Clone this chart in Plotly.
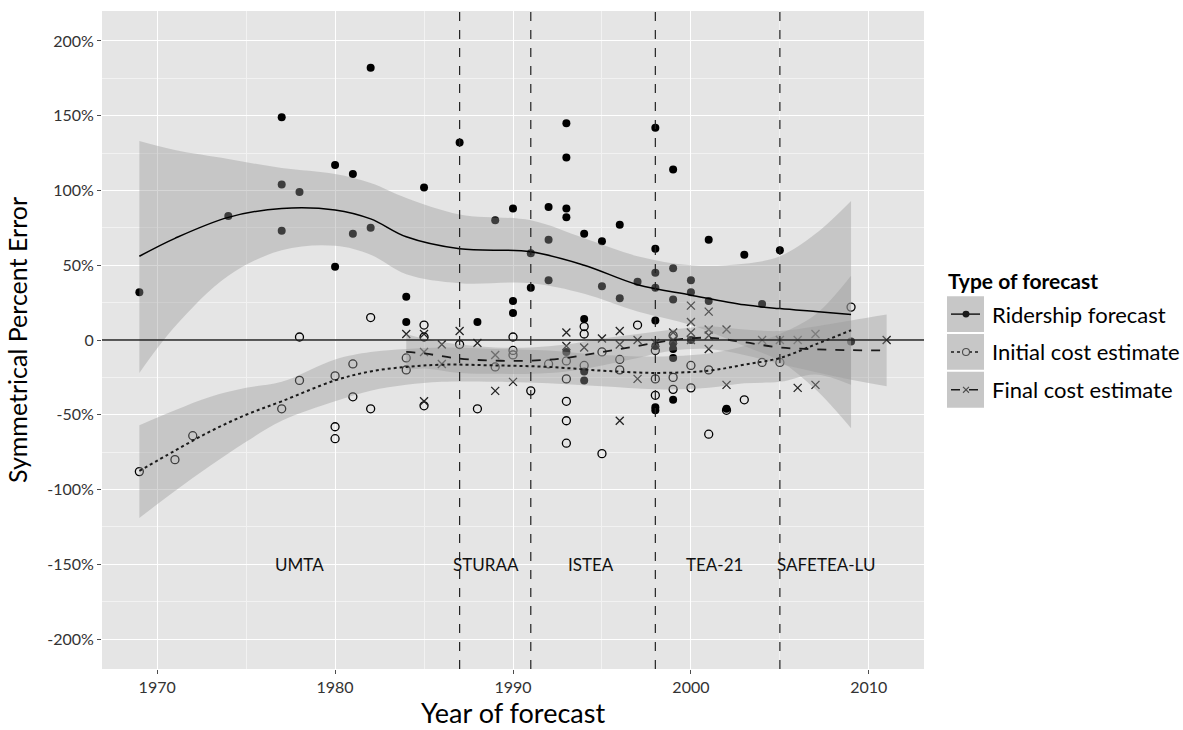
import plotly.graph_objects as go

# ---- observed forecast errors (symmetrical percent error, %) ----
rider_year = [1969, 1974, 1977, 1977, 1977, 1978, 1980, 1980, 1981, 1981, 1982, 1982,
              1984, 1984, 1985, 1987, 1988, 1989, 1990, 1990, 1990, 1991, 1991,
              1992, 1992, 1992, 1993, 1993, 1993, 1993, 1993, 1994, 1994, 1994, 1994,
              1995, 1995, 1996, 1996, 1997,
              1998, 1998, 1998, 1998, 1998, 1998, 1998, 1998,
              1999, 1999, 1999, 1999, 1999, 1999, 1999,
              2000, 2000, 2000, 2001, 2001, 2002, 2003, 2004, 2005, 2009]
rider_err = [32, 83, 149, 104, 73, 99, 117, 49, 111, 71, 182, 75,
             29, 12, 102, 132, 12, 80, 88, 26, 18, 58, 35,
             89, 67, 40, 145, 122, 88, 82, -8, 71, 14, -21, -27,
             66, 36, 77, 28, 39,
             142, 61, 45, 35, 13, -4, -45, -47,
             114, 48, 27, -2, -6, -12, -40,
             40, 32, 0, 67, 26, -46, 57, 24, 60, -1]

init_year = [1969, 1971, 1972, 1977, 1978, 1978, 1980, 1980, 1980, 1981, 1981, 1982, 1982,
             1984, 1984, 1985, 1985, 1985, 1987, 1988, 1989, 1990, 1990, 1990, 1991, 1992,
             1993, 1993, 1993, 1993, 1993, 1994, 1994, 1994, 1995, 1995, 1996, 1996, 1997,
             1998, 1998, 1998, 1999, 1999, 1999, 2000, 2000, 2001, 2001,
             2002, 2003, 2004, 2005, 2009]
init_err = [-88, -80, -64, -46, 2, -27, -24, -58, -66, -16, -38, 15, -46,
            -12, -20, 10, 2, -44, -3, -46, -18, 2, -7, -10, -34, -16,
            -14, -26, -41, -54, -69, 9, 4, -17, -8, -76, -13, -20, 10,
            -7, -26, -37, 3, -25, -33, -17, -32, -20, -63,
            -47, -40, -15, -15, 22]

final_year = [1984, 1985, 1985, 1985, 1986, 1986, 1987, 1988, 1989, 1989, 1990,
              1993, 1993, 1994, 1995, 1996, 1996, 1996, 1997, 1997, 1998, 1999, 1999,
              2000, 2000, 2000, 2000, 2001, 2001, 2001, 2001, 2002, 2002,
              2004, 2005, 2006, 2006, 2007, 2007, 2011]
final_err = [4, 4, -8, -41, -3, -16, 6, -2, -10, -34, -28,
             5, -4, -5, 1, 6, -3, -54, 0, -26, -2, 5, 0,
             23, 12, 5, 0, 19, 7, 3, -6, 7, -30,
             0, 0, 0, -32, 4, -30, 0]

# ---- loess smooths with confidence band ----
rider_s_year = [1969, 1971, 1974, 1977, 1980, 1982, 1984, 1987, 1991, 1994, 1997, 2000, 2003, 2005, 2007, 2009]
rider_s_fit = [56, 68, 82, 88, 87, 81, 69, 61, 59, 50, 37, 30, 23.5, 21, 19, 17]
rider_s_hi = [133, 127, 121, 115, 111, 105, 95, 84, 80, 68, 56, 50, 51, 56, 71, 93]
rider_s_lo = [-22, 9, 43, 60, 63, 57, 44, 38, 38, 31, 19, 10, -4, -14, -33, -59]

init_s_year = [1969, 1971, 1973, 1975, 1977, 1980, 1982, 1984, 1986, 1989, 1992, 1995, 1998, 2001, 2003, 2005, 2007, 2009]
init_s_fit = [-87.5, -74, -61, -50, -41, -27, -21, -18, -16.5, -17, -18, -20.5, -22, -20.5, -16.5, -12, -3, 6.5]
init_s_hi = [-57, -47, -38, -32, -28, -13, -8, -6, -5, -6, -7, -10, -11, -9, -4, 4, 17, 43]
init_s_lo = [-119, -101, -84, -68, -54, -41, -34, -30, -28, -28, -29, -31, -33, -32, -29, -28, -23, -30]

final_s_year = [1984, 1985, 1987, 1989, 1991, 1993, 1995, 1997, 1999, 2001, 2003, 2005, 2007, 2009, 2011]
final_s_fit = [-8, -9, -12.5, -13.8, -13.8, -12, -8, -4, 0, 1.5, -1.5, -5, -6.2, -6.8, -7]
final_s_hi = [4, 1, -3, -5, -5, -3, 1, 4, 7, 9, 7, 6, 9, 13, 17]
final_s_lo = [-20, -19, -22, -22.6, -22.6, -21, -17, -12, -7, -6, -10, -16, -21.4, -26.6, -31]

# ---- legislative eras ----
era_bounds = [1987, 1991, 1998, 2005]
era_names = ["UMTA", "STURAA", "ISTEA", "TEA-21", "SAFETEA-LU"]
era_label_x = [1978, 1988.5, 1994.4, 2001.3, 2007.6]
era_label_y = -150

x_ticks = [1970, 1980, 1990, 2000, 2010]
y_ticks = [-200, -150, -100, -50, 0, 50, 100, 150, 200]
y_tick_text = ["-200%", "-150%", "-100%", "-50%", "0", "50%", "100%", "150%", "200%"]

legend_title = "Type of forecast"
legend_names = ["Ridership forecast", "Initial cost estimate", "Final cost estimate"]

FONT = "Lato"
BAND = "rgba(153,153,153,0.4)"

fig = go.Figure()

# points
fig.add_trace(go.Scatter(x=rider_year, y=rider_err, mode="markers", name=legend_names[0],
                         marker=dict(symbol="circle", size=8, color="black"), showlegend=False))
fig.add_trace(go.Scatter(x=init_year, y=init_err, mode="markers", name=legend_names[1],
                         marker=dict(symbol="circle-open", size=8, color="black", line=dict(width=1.3)),
                         showlegend=False))
fig.add_trace(go.Scatter(x=final_year, y=final_err, mode="markers", name=legend_names[2],
                         marker=dict(symbol="x-thin-open", size=8, color="#222222", line=dict(width=1.3)),
                         showlegend=False))

# confidence bands (drawn over the points, like a translucent ribbon)
for yr, lo, hi in [(rider_s_year, rider_s_lo, rider_s_hi),
                   (init_s_year, init_s_lo, init_s_hi),
                   (final_s_year, final_s_lo, final_s_hi)]:
    fig.add_trace(go.Scatter(x=yr, y=lo, mode="lines", line=dict(width=0, shape="spline"),
                             showlegend=False, hoverinfo="skip"))
    fig.add_trace(go.Scatter(x=yr, y=hi, mode="lines", line=dict(width=0, shape="spline"),
                             fill="tonexty", fillcolor=BAND, showlegend=False, hoverinfo="skip"))

# smooth lines
fig.add_trace(go.Scatter(x=rider_s_year, y=rider_s_fit, mode="lines", showlegend=False,
                         line=dict(color="black", width=1.5, shape="spline")))
fig.add_trace(go.Scatter(x=init_s_year, y=init_s_fit, mode="lines", showlegend=False,
                         line=dict(color="#1a1a1a", width=2, dash="dot", shape="spline")))
fig.add_trace(go.Scatter(x=final_s_year, y=final_s_fit, mode="lines", showlegend=False,
                         line=dict(color="#1a1a1a", width=1.8, dash="dash", shape="spline")))

shapes = []
# zero reference line
shapes.append(dict(type="line", xref="paper", yref="y", x0=0, x1=1, y0=0, y1=0,
                   line=dict(color="#222222", width=1.5), layer="above"))
# era boundaries
for b in era_bounds:
    shapes.append(dict(type="line", xref="x", yref="paper", x0=b, x1=b, y0=0, y1=1,
                       line=dict(color="#222222", width=1.2, dash="dash"), layer="above"))

annotations = []
for name, xv in zip(era_names, era_label_x):
    annotations.append(dict(x=xv, y=era_label_y, xref="x", yref="y", text=name, showarrow=False,
                            font=dict(family=FONT, size=17, color="#111111"),
                            xanchor="center", yanchor="middle"))

# ---- hand-built legend to the right of the panel ----
FIG_W, FIG_H = 1183, 730
M_L, M_R, M_T, M_B = 102, 259, 11, 58
PW, PH = FIG_W - M_L - M_R, FIG_H - M_T - M_B


def px_x(px):
    return (px - M_L) / PW


def px_y(py):
    return (FIG_H - M_B - py) / PH


annotations.append(dict(x=px_x(946), y=px_y(282), xref="paper", yref="paper", text="<b>%s</b>" % legend_title,
                        showarrow=False, xanchor="left", yanchor="middle",
                        font=dict(family=FONT, size=21, color="black")))
row_cy = [315.5, 353.5, 391.5]
key_dash = ["solid", "dot", "dash"]
for i, (cy, name, dash) in enumerate(zip(row_cy, legend_names, key_dash)):
    shapes.append(dict(type="rect", xref="paper", yref="paper",
                       x0=px_x(947), x1=px_x(984), y0=px_y(cy + 18), y1=px_y(cy - 18),
                       fillcolor="#C7C7C7", line=dict(width=0), layer="above"))
    shapes.append(dict(type="line", xref="paper", yref="paper",
                       x0=px_x(951), x1=px_x(980), y0=px_y(cy), y1=px_y(cy),
                       line=dict(color="#1a1a1a", width=1.6 if i else 1.5, dash=dash), layer="above"))
    if i == 0:
        shapes.append(dict(type="circle", xref="paper", yref="paper",
                           x0=px_x(962.5), x1=px_x(969.5), y0=px_y(cy + 3.5), y1=px_y(cy - 3.5),
                           fillcolor="#1a1a1a", line=dict(width=0), layer="above"))
    elif i == 1:
        shapes.append(dict(type="circle", xref="paper", yref="paper",
                           x0=px_x(962.5), x1=px_x(969.5), y0=px_y(cy + 3.5), y1=px_y(cy - 3.5),
                           fillcolor="#C7C7C7", line=dict(width=1.1, color="#4d4d4d"), layer="above"))
    else:
        for s in (1, -1):
            shapes.append(dict(type="line", xref="paper", yref="paper",
                               x0=px_x(963), x1=px_x(969), y0=px_y(cy + 3 * s), y1=px_y(cy - 3 * s),
                               line=dict(color="#4d4d4d", width=1.1), layer="above"))
    annotations.append(dict(x=px_x(990), y=px_y(cy), xref="paper", yref="paper", text=name,
                            showarrow=False, xanchor="left", yanchor="middle",
                            font=dict(family=FONT, size=22, color="black")))

fig.update_layout(
    width=FIG_W, height=FIG_H,
    margin=dict(l=M_L, r=M_R, t=M_T, b=M_B, pad=0),
    paper_bgcolor="white", plot_bgcolor="#E5E5E5",
    font=dict(family=FONT, color="black"),
    shapes=shapes, annotations=annotations,
    showlegend=False,
)
fig.update_xaxes(
    range=[1966.9, 2013.1], tickvals=x_ticks, ticks="outside", ticklen=4, tickcolor="#4d4d4d",
    tickfont=dict(family=FONT, size=16, color="#333333"),
    showgrid=True, gridcolor="white", gridwidth=1.2, zeroline=False, showline=False,
    minor=dict(tick0=1965, dtick=5, showgrid=True, gridcolor="#F2F2F2", gridwidth=0.6, ticks=""),
    title=dict(text="Year of forecast", font=dict(family=FONT, size=27, color="black"), standoff=4),
)
fig.update_yaxes(
    range=[-220, 220], tickvals=y_ticks, ticktext=y_tick_text, ticks="outside", ticklen=4,
    tickcolor="#4d4d4d", tickfont=dict(family=FONT, size=16, color="#333333"),
    showgrid=True, gridcolor="white", gridwidth=1.2, zeroline=False, showline=False,
    minor=dict(tick0=-225, dtick=25, showgrid=True, gridcolor="#F2F2F2", gridwidth=0.6, ticks=""),
    title=dict(text="Symmetrical Percent Error", font=dict(family=FONT, size=25, color="black"), standoff=12),
)

fig.write_html("out.html")
